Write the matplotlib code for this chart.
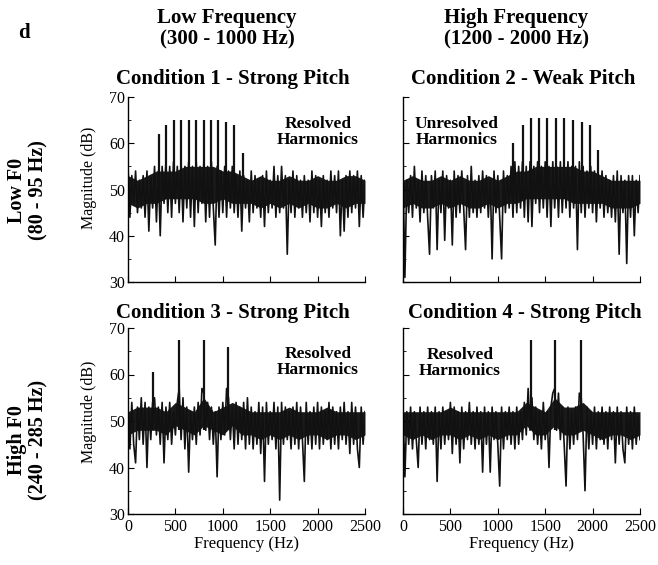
import numpy as np
import matplotlib
matplotlib.use("Agg")
import matplotlib.pyplot as plt
from matplotlib.ticker import MultipleLocator

plt.rcParams['font.family'] = ['Liberation Serif', 'DejaVu Serif']

# ---------------- data ----------------
col_headers = ["Low Frequency\n(300 - 1000 Hz)", "High Frequency\n(1200 - 2000 Hz)"]
row_headers = ["Low F0\n(80 - 95 Hz)", "High F0\n(240 - 285 Hz)"]
titles = ["Condition 1 - Strong Pitch", "Condition 2 - Weak Pitch",
          "Condition 3 - Strong Pitch", "Condition 4 - Strong Pitch"]
notes = ["Resolved\nHarmonics", "Unresolved\nHarmonics",
         "Resolved\nHarmonics", "Resolved\nHarmonics"]

# noise floor magnitudes (dB), sampled every 20 Hz from 0 to 2500 Hz
noise1 = [55, 44, 53, 47, 54, 45, 52, 46, 53, 44,
          54, 41, 53, 46, 55, 43, 54, 40, 55, 47,
          56, 45, 55, 44, 56, 47, 55, 45, 56, 43,
          55, 46, 56, 44, 55, 42, 56, 45, 55, 47,
          56, 43, 55, 44, 56, 46, 38, 55, 44, 54,
          45, 55, 44, 54, 46, 55, 45, 53, 44, 54,
          41, 53, 46, 52, 43, 54, 45, 53, 46, 52,
          44, 53, 42, 54, 45, 52, 46, 55, 44, 53,
          45, 55, 46, 53, 36, 52, 45, 54, 44, 53,
          46, 52, 44, 53, 45, 52, 43, 54, 45, 53,
          44, 52, 42, 53, 45, 52, 44, 54, 46, 53,
          45, 54, 40, 52, 41, 53, 44, 54, 45, 53,
          46, 54, 42, 53, 44, 52]
noise2 = [54, 31, 52, 45, 53, 44, 55, 46, 52, 43,
          54, 45, 53, 44, 36, 53, 46, 54, 37, 52,
          45, 54, 39, 53, 46, 52, 38, 54, 44, 53,
          45, 54, 46, 37, 53, 44, 55, 45, 52, 44,
          53, 45, 54, 46, 53, 44, 52, 35, 54, 45,
          53, 44, 35, 54, 45, 53, 46, 55, 44, 56,
          45, 55, 46, 56, 44, 55, 43, 56, 42, 55,
          47, 56, 45, 55, 46, 56, 44, 55, 42, 56,
          46, 55, 44, 56, 45, 55, 46, 56, 44, 55,
          46, 55, 37, 56, 45, 55, 44, 54, 46, 55,
          45, 54, 43, 53, 46, 54, 44, 53, 45, 52,
          44, 53, 43, 54, 36, 53, 45, 52, 34, 53,
          44, 53, 40, 52, 45, 53]
noise3 = [53, 44, 54, 45, 41, 53, 46, 55, 45, 54,
          40, 53, 46, 54, 55, 47, 53, 45, 54, 41,
          53, 46, 54, 45, 52, 47, 54, 57, 46, 55,
          44, 53, 39, 52, 46, 53, 45, 54, 47, 57,
          56, 48, 54, 46, 53, 45, 52, 38, 53, 46,
          54, 47, 57, 55, 46, 53, 44, 54, 45, 53,
          46, 54, 44, 55, 45, 53, 44, 52, 45, 54,
          43, 53, 37, 54, 45, 52, 46, 54, 44, 53,
          33, 54, 45, 53, 46, 52, 44, 53, 45, 54,
          44, 53, 46, 37, 54, 45, 52, 44, 53, 45,
          54, 44, 53, 45, 52, 46, 54, 44, 53, 45,
          52, 44, 53, 46, 54, 45, 52, 43, 54, 45,
          53, 44, 40, 53, 45, 52]
noise4 = [53, 38, 52, 45, 53, 44, 52, 46, 40, 53,
          45, 52, 44, 53, 46, 52, 45, 53, 37, 52,
          44, 53, 45, 52, 46, 54, 43, 53, 45, 52,
          41, 53, 44, 52, 46, 54, 45, 52, 44, 53,
          45, 52, 39, 53, 45, 52, 39, 53, 46, 52,
          45, 36, 53, 44, 52, 46, 53, 45, 52, 44,
          53, 45, 52, 46, 54, 47, 57, 48, 55, 46,
          53, 45, 52, 44, 54, 46, 52, 40, 53, 56,
          57, 48, 56, 46, 53, 45, 36, 53, 44, 52,
          45, 53, 46, 56, 55, 47, 35, 53, 44, 52,
          45, 53, 44, 52, 46, 53, 45, 52, 44, 53,
          46, 52, 41, 53, 45, 52, 44, 41, 53, 45,
          52, 44, 53, 45, 51, 46]

# dense core of the noise band (dB), every 100 Hz from 0 to 2500 Hz
core_hi1 = [53, 52, 53, 54, 54, 54, 55, 55, 55, 55, 54, 54, 53,
            52, 53, 52, 52, 53, 52, 52, 53, 52, 52, 53, 53, 52]
core_lo1 = [47, 46, 47, 47, 48, 48, 48, 48, 47, 47, 48, 47, 47,
            47, 46, 47, 46, 47, 46, 47, 46, 46, 47, 46, 47, 47]
core_hi2 = [52, 53, 52, 52, 53, 52, 53, 52, 52, 53, 52, 53, 54,
            54, 55, 55, 55, 55, 55, 54, 54, 53, 52, 52, 52, 52]
core_lo2 = [46, 47, 46, 46, 47, 46, 47, 46, 46, 47, 46, 47, 47,
            48, 48, 48, 48, 48, 47, 47, 47, 47, 46, 46, 46, 47]
core_hi3 = [52, 53, 53, 53, 52, 54, 53, 52, 55, 52, 53, 54, 53,
            52, 52, 52, 52, 53, 52, 52, 52, 53, 52, 52, 52, 52]
core_lo3 = [47, 48, 48, 48, 47, 49, 48, 47, 49, 48, 47, 49, 47,
            47, 46, 47, 46, 47, 46, 47, 47, 46, 47, 47, 46, 47]
core_hi4 = [52, 52, 52, 52, 52, 53, 52, 52, 52, 52, 52, 52, 52,
            54, 53, 52, 55, 53, 53, 54, 52, 52, 52, 52, 52, 52]
core_lo4 = [47, 46, 47, 46, 47, 47, 46, 47, 46, 47, 46, 47, 47,
            49, 47, 47, 49, 47, 47, 48, 47, 46, 47, 47, 46, 47]

# harmonic components: frequency (Hz) and peak magnitude (dB)
harm1_freq = [324, 398, 486, 563, 644, 722, 799, 880, 954, 1039, 1116, 1208]
harm1_db = [62, 64, 65, 65, 65, 65, 65, 65, 65, 64.5, 64, 58]
harm2_freq = [1162, 1261, 1349, 1437, 1521, 1609, 1701, 1789, 1884, 1972, 2060]
harm2_db = [60, 64, 65.5, 65.5, 65.5, 65.5, 65.5, 65, 64.5, 64, 58.5]
harm3_freq = [263, 534, 797, 1060]
harm3_db = [60.5, 67.5, 67.5, 66]
harm4_freq = [1348, 1605, 1879]
harm4_db = [67.5, 67.5, 67.5]

x_ticks = [0, 500, 1000, 1500, 2000, 2500]
y_ticks = [30, 40, 50, 60, 70]

noises = [noise1, noise2, noise3, noise4]
cores = [(core_lo1, core_hi1), (core_lo2, core_hi2),
         (core_lo3, core_hi3), (core_lo4, core_hi4)]
harms = [(harm1_freq, harm1_db), (harm2_freq, harm2_db),
         (harm3_freq, harm3_db), (harm4_freq, harm4_db)]

# ---------------- layout ----------------
W, H = 658, 565
fig = plt.figure(figsize=(W / 100, H / 100), dpi=100)

def px(x, y):
    return x / W, 1 - y / H

# axes boxes in pixels: left, top, right, bottom
boxes = [(128, 97, 365, 282), (403, 97, 640, 282),
         (128, 328, 365, 514), (403, 328, 640, 514)]
title_pos = [(233, 79), (523, 79), (233, 313), (525, 313)]
note_pos = [(318, 132), (457, 132), (318, 362), (460, 363)]

for i in range(4):
    l, t, r, b = boxes[i]
    ax = fig.add_axes([l / W, 1 - b / H, (r - l) / W, (b - t) / H])
    lo, hi = cores[i]
    fc = np.linspace(0, 2500, len(lo))
    ax.fill_between(fc, lo, hi, color='#1a1a1a', lw=0)
    vals = noises[i]
    f = np.linspace(0, 2500, len(vals))
    ax.plot(f, vals, color='#111111', lw=1.2)
    hf, hd = harms[i]
    ax.vlines(hf, 48, hd, color='#111111', lw=1.6)
    ax.set_xlim(0, 2500)
    ax.set_ylim(30, 70)
    for s in ('top', 'right'):
        ax.spines[s].set_visible(False)
    for s in ('left', 'bottom'):
        ax.spines[s].set_linewidth(1.0)
    ax.set_xticks(x_ticks)
    ax.set_yticks(y_ticks)
    ax.yaxis.set_minor_locator(MultipleLocator(5))
    ax.tick_params(direction='in', length=4, width=0.8, labelsize=11.5)
    ax.tick_params(which='minor', direction='in', length=2, width=0.6)
    ax.tick_params(axis='y', pad=2)
    if i % 2 == 1:
        ax.set_yticklabels([])
    if i < 2:
        ax.set_xticklabels([])
    else:
        ax.set_xlabel("Frequency (Hz)", fontsize=12, labelpad=1)
    tx, ty = title_pos[i]
    fig.text(*px(tx, ty), titles[i], ha='center', va='center',
             fontsize=15, fontweight='bold')
    nx, ny = note_pos[i]
    fig.text(*px(nx, ny), notes[i], ha='center', va='center',
             fontsize=12.5, fontweight='bold', linespacing=1.0)

# y labels
fig.text(*px(89, 178), "Magnitude (dB)", rotation=90, ha='center',
         va='center', fontsize=11.5)
fig.text(*px(89, 412), "Magnitude (dB)", rotation=90, ha='center',
         va='center', fontsize=11.5)

# column headers
fig.text(*px(227, 29), col_headers[0], ha='center', va='center',
         fontsize=15, fontweight='bold', linespacing=1.1)
fig.text(*px(516, 29), col_headers[1], ha='center', va='center',
         fontsize=15, fontweight='bold', linespacing=1.1)

# row headers
fig.text(*px(28, 190), row_headers[0], rotation=90, ha='center',
         va='center', fontsize=14.5, fontweight='bold', linespacing=1.1)
fig.text(*px(28, 440), row_headers[1], rotation=90, ha='center',
         va='center', fontsize=14.5, fontweight='bold', linespacing=1.1)

fig.text(*px(24, 33), "d", ha='center', va='center', fontsize=15,
         fontweight='bold')

fig.savefig("out.png", dpi=100)
